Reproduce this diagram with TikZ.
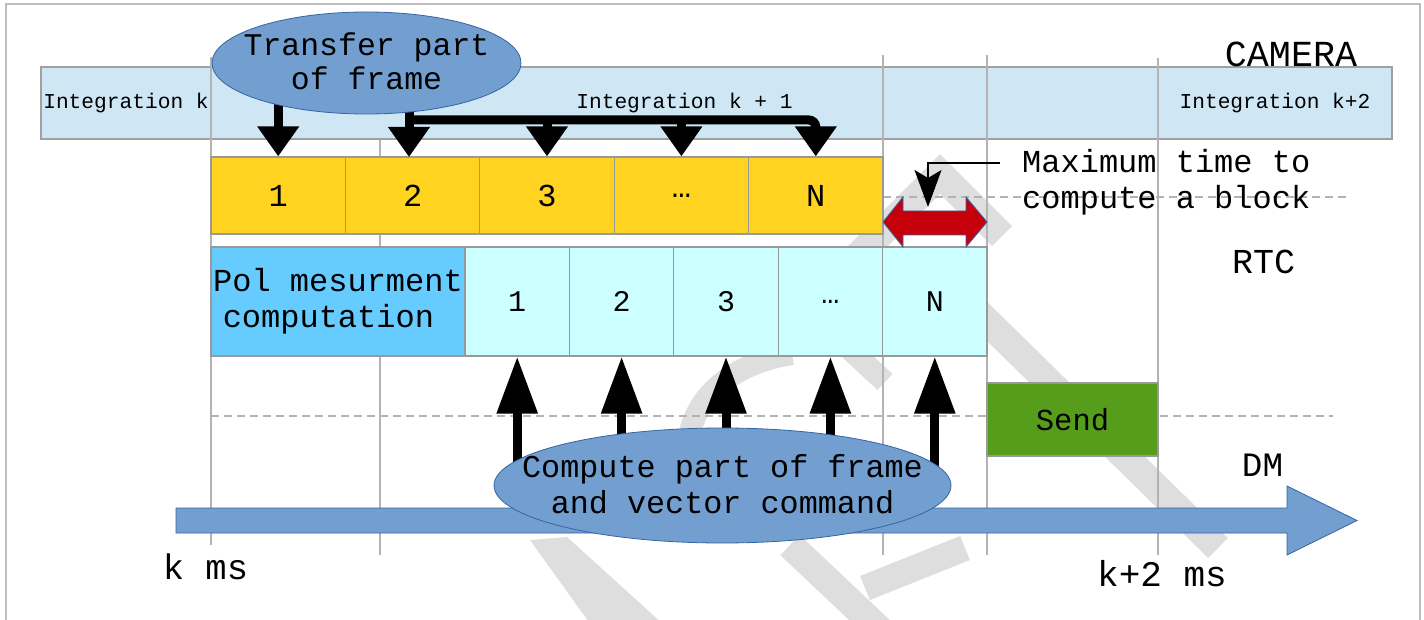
\documentclass[tikz,border=0pt]{standalone}
\usepackage{fontspec}
\setmainfont{Liberation Mono}
\usetikzlibrary{arrows.meta,shapes.geometric}
\definecolor{camfill}{HTML}{CFE7F5}
\definecolor{camborder}{HTML}{A0A0A0}
\definecolor{cellborder}{HTML}{999999}
\definecolor{yel}{HTML}{FFD320}
\definecolor{polblue}{HTML}{66CCFF}
\definecolor{cyanc}{HTML}{CCFFFF}
\definecolor{sendgreen}{HTML}{579D1C}
\definecolor{ellfill}{HTML}{729FCF}
\definecolor{ellborder}{HTML}{3465A4}
\definecolor{redarrow}{HTML}{C5000B}
\definecolor{gridgray}{HTML}{B3B3B3}
\definecolor{framegray}{HTML}{BDBDBD}
\definecolor{wm}{HTML}{DEDEDE}
\begin{document}
\begin{tikzpicture}[x=1pt,y=-1pt,
  wmk/.style={draw=wm, line width=28pt, line cap=butt, line join=miter},
  camcell/.style={draw=camborder, line width=1.2pt, fill=camfill, inner sep=0pt, minimum height=72pt},
  cell/.style={draw=cellborder, line width=1.2pt, inner sep=0pt, font=\fontsize{32}{36}\selectfont, align=center},
  gridline/.style={draw=gridgray, line width=1.4pt},
  dashline/.style={draw=gridgray, line width=1.2pt, dash pattern=on 8pt off 5pt},
  ell/.style={ellipse, draw=ellborder, line width=0.8pt, fill=ellfill, inner sep=0pt},
  blk/.style={line width=9pt, -{Triangle[length=30pt,width=40pt]}},
  blkup/.style={line width=9pt, -{Triangle[length=57pt,width=39pt]}},
  callout/.style={line width=1.2pt, -{Stealth[length=37pt,width=27pt,inset=8pt]}},
  lbl/.style={inner sep=0pt, font=\fontsize{32}{36}\selectfont, align=center}
]
\useasboundingbox (0,0) rectangle (1424,620);
\fill[white] (0,0) rectangle (1424,620);
\draw[framegray, line width=2pt] (6,4) rectangle (1420,660);

% watermark
\draw[wmk] (858,256) -- (940,174) -- (1002,236);
\draw[wmk] (950,285) -- (1218,548);
\fill[wm] (530,540) -- (567,537) -- (664,625) -- (591,625) -- cycle;
\draw[wmk] (790,545) -- (880,630);
\draw[wmk, line width=26pt] (865,588) -- (965,548);
\draw[wmk, line width=22pt] (690,432) .. controls (700,390) and (740,362) .. (792,354);
\draw[wmk, line width=22pt] (842,342) -- (885,382);

% camera band
\node[camcell, minimum width=170pt, font=\fontsize{21.2}{24}\selectfont] (cam1) at (126,103) {Integration k};
\node[camcell, minimum width=947pt] (cam2) at (684.5,103) {};
\node[camcell, minimum width=234pt, font=\fontsize{21.2}{24}\selectfont] (cam3) at (1275,103) {Integration k+2};
\node[inner sep=0pt, font=\fontsize{21.2}{24}\selectfont] (cam2t) at (cam2) {Integration k + 1};

% grid lines
\draw[gridline] (211,57) -- (211,545);
\draw[gridline] (380,140) -- (380,555);
\draw[gridline] (883,55) -- (883,555);
\draw[gridline] (987,55) -- (987,555);
\draw[gridline] (1158,58) -- (1158,555);

% dashed lines
\draw[dashline] (883,197) -- (1348,197);
\draw[dashline] (211,416) -- (1333,416);

% yellow row
\foreach \i/\t/\nm in {0/1/y1, 1/2/y2, 2/3/y3, 3/{…}/y4, 4/N/yN}{
  \node[cell, fill=yel, minimum width=134.4pt, minimum height=77pt] (\nm) at ({278.2+134.4*\i},195.5) {\t};
}
% RTC row
\node[cell, fill=polblue, minimum width=254pt, minimum height=109pt] (pol) at (338,301.5) {Pol mesurment\\computation\phantom{n}};
\foreach \i/\t/\nm in {0/1/c1, 1/2/c2, 2/3/c3, 3/{…}/c4, 4/N/cN}{
  \node[cell, fill=cyanc, minimum width=104.4pt, minimum height=109pt, font=\fontsize{30}{36}\selectfont] (\nm) at ({517.2+104.4*\i},301.5) {\t};
}
% send
\node[cell, fill=sendgreen, minimum width=171pt, minimum height=73pt, font=\fontsize{30.5}{36}\selectfont] (send) at (1072.5,419.5) {Send};

% red double arrow
\draw[fill=redarrow, draw=ellborder, line width=0.8pt] (883,222) -- (903,197) -- (903,211) -- (966,211) -- (966,197) -- (987,222) -- (966,247) -- (966,235) -- (903,235) -- (903,247) -- cycle;

% callout
\node[lbl, anchor=north west, align=left] (maxt) at (1022,149) {Maximum time to\\compute a block};
\coordinate (cofrom) at (1000,163);
\coordinate (coto) at (928,207);
\draw[callout] (cofrom) -- (coto |- cofrom) -- (coto);

% DM arrow
\draw[fill=ellfill, draw=ellborder, line width=0.8pt] (176,508) -- (1287,508) -- (1287,486) -- (1357,520.5) -- (1287,555) -- (1287,533) -- (176,533) -- cycle;

% transfer arrows
\coordinate (bar) at (0,120);
\coordinate (trc) at (366.5,63);
\draw[blk] (y1.north |- trc) -- (y1.north);
\draw[blk] (409,70) -- (409,157);
\draw[blk, rounded corners=7pt] (409,120) -- (yN.north |- bar) -- (yN.north);
\draw[blk] (y3.north |- bar) -- (y3.north);
\draw[blk] (y4.north |- bar) -- (y4.north);
\node[ell, minimum width=309pt, minimum height=102pt] (tr) at (trc) {};
\node[lbl, font=\fontsize{31.5}{34}\selectfont] (trt) at (366.5,61) {Transfer part\\of frame};

% compute arrows
\coordinate (cpc) at (722.5,485.5);
\foreach \nm in {c1,c2,c3,c4,cN}{
  \draw[blkup] (\nm.south |- cpc) -- (\nm.south);
}
\node[ell, minimum width=457pt, minimum height=115pt] (cp) at (cpc) {};
\node[lbl, font=\fontsize{31.8}{36}\selectfont] (cpt) at (722.5,484) {Compute part of frame\\and vector command};

% labels
\node[lbl, font=\fontsize{36.7}{40}\selectfont] (camera) at (1291,54.5) {CAMERA};
\node[lbl, font=\fontsize{35}{40}\selectfont] (rtc) at (1263.5,261.5) {RTC};
\node[lbl, font=\fontsize{34.2}{40}\selectfont] (dm) at (1262.5,465) {DM};
\node[lbl, font=\fontsize{35.5}{40}\selectfont] (kms) at (205.5,566.5) {k ms};
\node[lbl, font=\fontsize{36}{40}\selectfont] (k2ms) at (1162,573.5) {k+2 ms};
\end{tikzpicture}
\end{document}
